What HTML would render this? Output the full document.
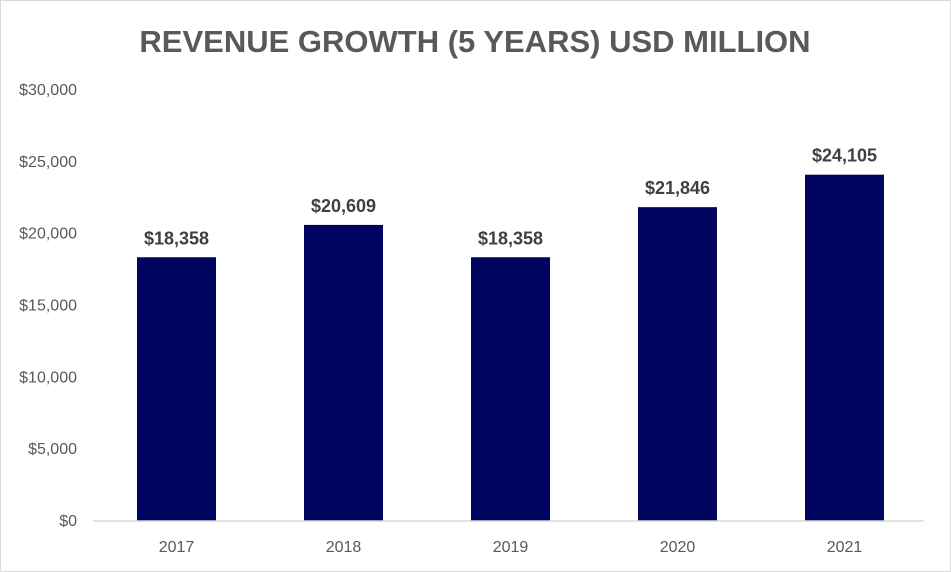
<!DOCTYPE html>
<html><head><meta charset="utf-8"><style>
html,body{margin:0;padding:0;background:#fff;}
svg{display:block;font-family:"Liberation Sans",Calibri,sans-serif;}
</style></head><body>
<svg id="chart" width="951" height="572">
<rect x="0.5" y="0.5" width="950" height="571" fill="#fff" stroke="#d9d9d9"/>
<text x="475" y="52" text-anchor="middle" font-size="31" font-weight="bold" fill="#595959">REVENUE GROWTH (5 YEARS) USD MILLION</text>
<g id="yaxis"></g><g id="bars"></g><g id="xaxis"></g>
</svg>
<script>
const categories=["2017","2018","2019","2020","2021"];
const revenue=[18358,20609,18358,21846,24105];
const yTicks=[0,5000,10000,15000,20000,25000,30000];
const ns="http://www.w3.org/2000/svg";
const X0=93,X1=928,Y0=521,YTOP=90,YMAX=30000;
const band=(X1-X0)/categories.length;
const y=v=>Y0-(v/YMAX)*(Y0-YTOP);
const xc=i=>X0+band*(i+0.5);
const fmt=v=>"$"+v.toLocaleString("en-US");
function mk(tag,attrs,parent,text){const e=document.createElementNS(ns,tag);for(const k in attrs)e.setAttribute(k,attrs[k]);if(text!==undefined)e.textContent=text;parent.appendChild(e);return e;}
const ya=document.getElementById("yaxis"),bg=document.getElementById("bars"),xa=document.getElementById("xaxis");
yTicks.forEach(t=>{
 const e=mk("text",{x:77,y:y(t)+5,"text-anchor":"end","font-size":"16",fill:"#595959"},ya,fmt(t));
 
 
});
const ax=mk("line",{x1:X0,x2:X1-4,y1:Y0,y2:Y0,stroke:"#d9d9d9","stroke-width":"1.5"},xa);


categories.forEach((c,i)=>{
 const w=79,v=revenue[i];
 const r=mk("rect",{x:xc(i)-w/2,y:y(v),width:w,height:Y0-y(v),fill:"#000660"},bg);
 
 
 const l=mk("text",{x:xc(i),y:y(v)-13,"text-anchor":"middle","font-size":"18","font-weight":"bold",fill:"#404040"},bg,fmt(v));
 
 
 const t=mk("text",{x:xc(i),y:552,"text-anchor":"middle","font-size":"16",fill:"#595959"},xa,c);
 
 
});
</script>
</body></html>
